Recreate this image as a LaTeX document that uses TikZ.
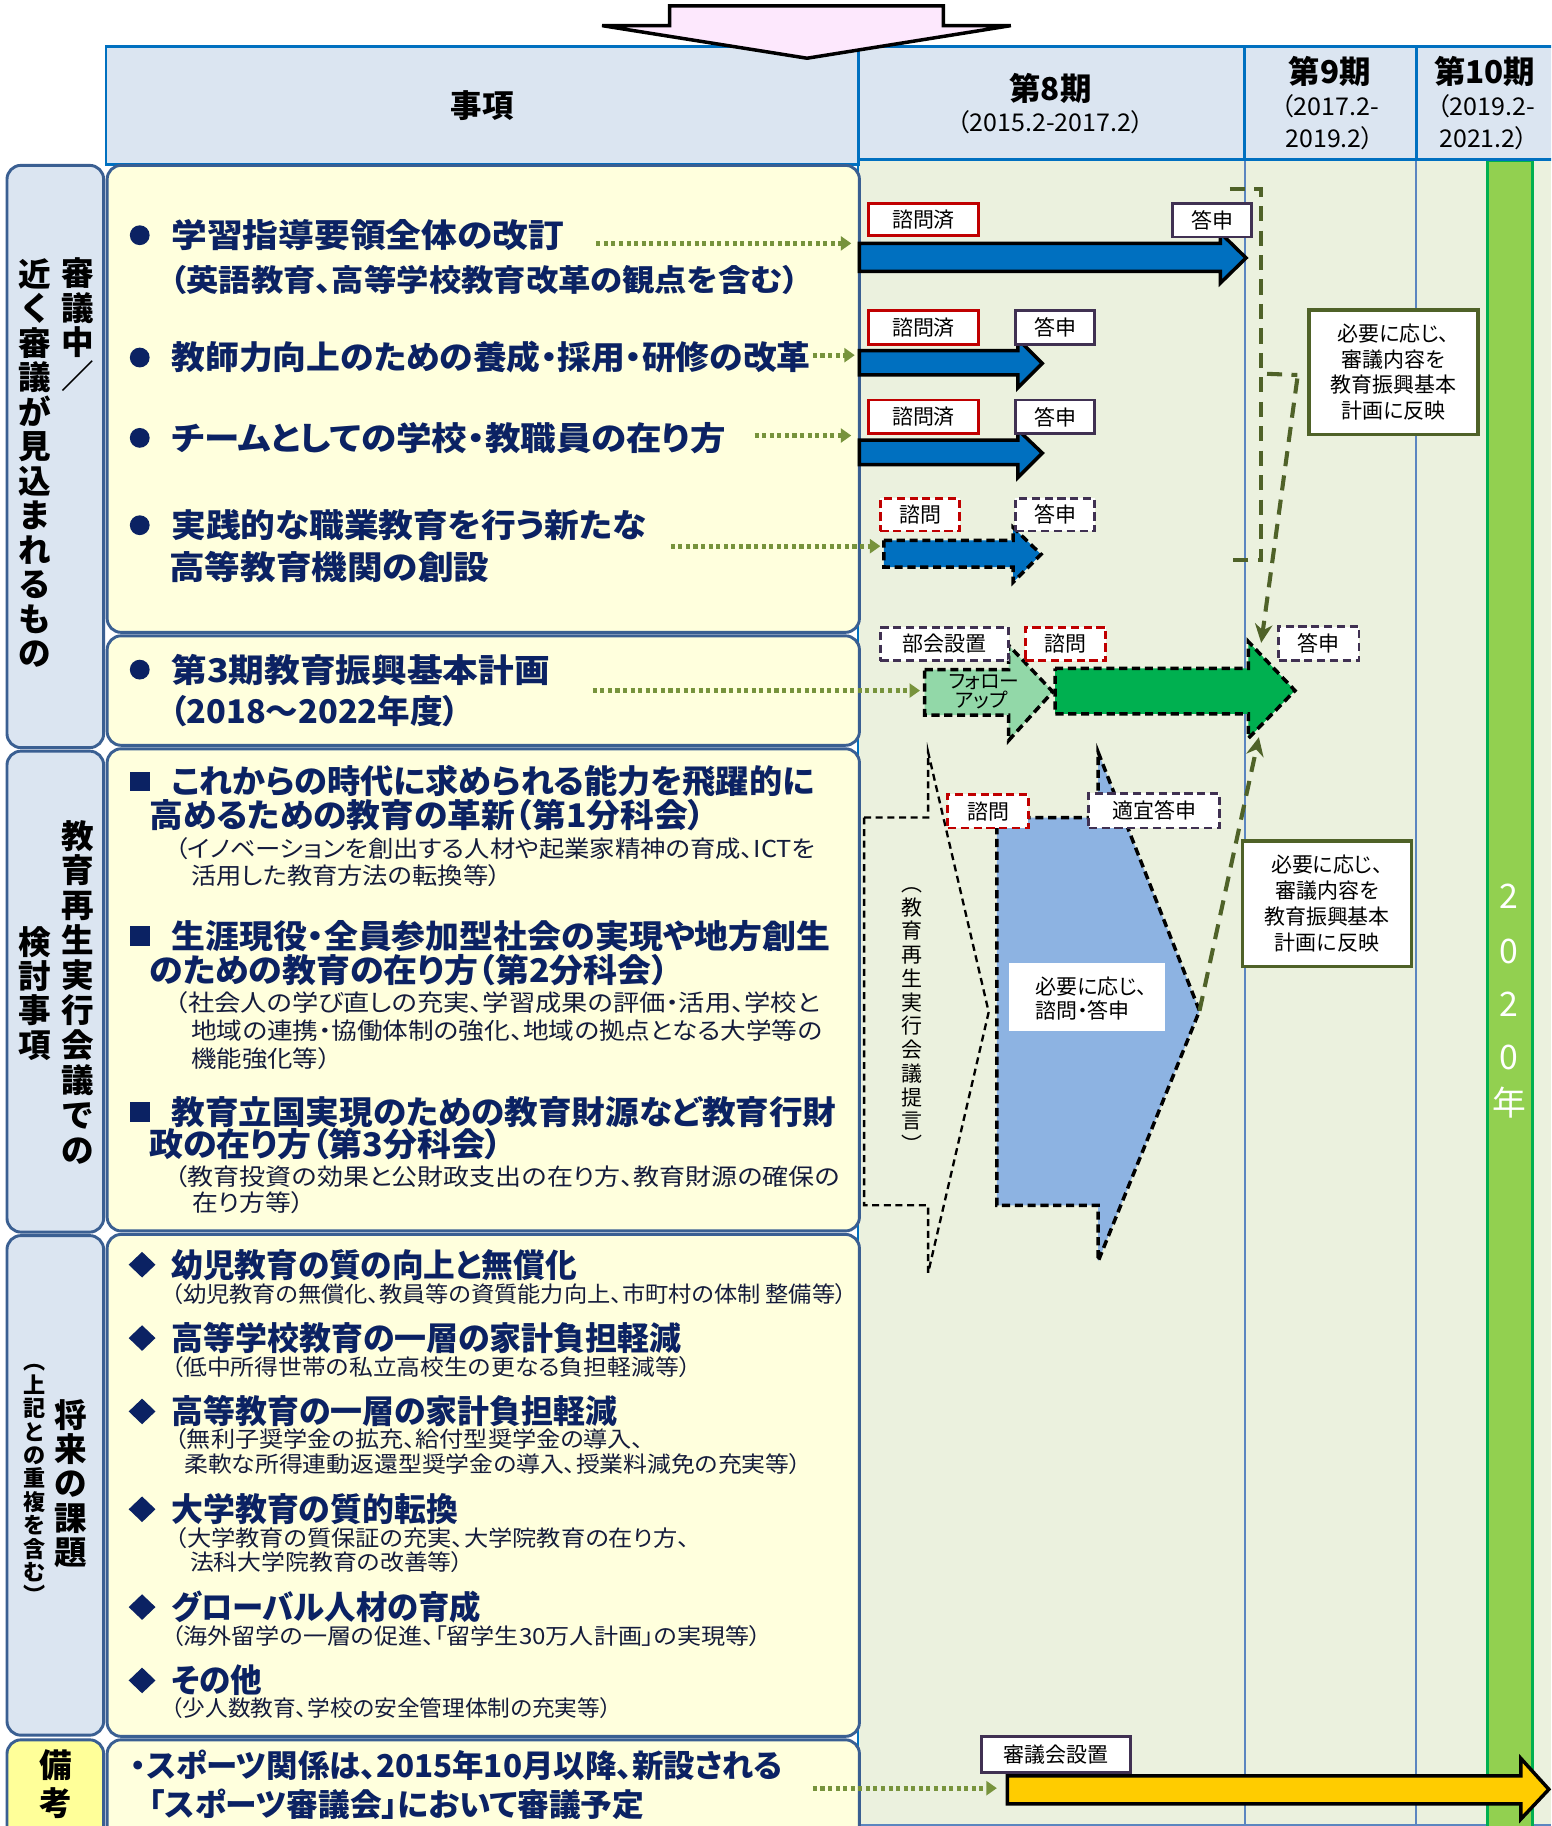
\documentclass[tikz,border=0pt]{standalone}
\usepackage{fontspec}
\setmainfont{Noto Sans CJK JP}[RawFeature=+palt]
\usepackage{graphicx}
\usetikzlibrary{arrows.meta}
\definecolor{navy}{HTML}{0B2263}
\definecolor{subtxt}{HTML}{141B3C}
\definecolor{hdrfill}{HTML}{DBE5F1}
\definecolor{hdrline}{HTML}{0070C0}
\definecolor{boxline}{HTML}{3A5F92}
\definecolor{ylfill}{HTML}{FFFFDD}
\definecolor{tlbg}{HTML}{EBF1DE}
\definecolor{vline}{HTML}{5B86C0}
\definecolor{gbar}{HTML}{92D050}
\definecolor{gbarline}{HTML}{00B050}
\definecolor{olive}{HTML}{4F6228}
\definecolor{dotgreen}{HTML}{77933C}
\definecolor{redb}{HTML}{C00000}
\definecolor{purb}{HTML}{403152}
\definecolor{bluearr}{HTML}{0070C0}
\definecolor{pentblue}{HTML}{8DB3E2}
\definecolor{fugreen}{HTML}{92D8A8}
\definecolor{biggreen}{HTML}{00B050}
\definecolor{yarr}{HTML}{FFCC00}
\definecolor{pinkarr}{HTML}{FDE8FD}
\definecolor{bikofill}{HTML}{FFFF99}
\newcommand{\fw}[2]{\resizebox{#1pt}{\height}{#2}}
\newcommand{\myfs}[1]{\fontsize{#1}{#1}\selectfont}
\newcommand{\mylfs}[2]{\fontsize{#1}{#2}\selectfont}
\begin{document}
\begin{tikzpicture}[x=1pt,y=-1pt,
  catbox/.style={draw=boxline, line width=2.5pt, fill=hdrfill, rounded corners=12pt},
  contbox/.style={draw=boxline, line width=2.5pt, fill=ylfill, rounded corners=12pt},
  hdrcell/.style={draw=hdrline, line width=2.5pt, fill=hdrfill},
  ttl/.style={anchor=west, inner sep=0pt, text=navy, font=\bfseries\myfs{28}},
  subt/.style={anchor=west, inner sep=0pt, text=subtxt, font=\myfs{20}},
  subd/.style={anchor=west, inner sep=0pt, text=subtxt, font=\myfs{19}},
  vtxt/.style={align=center, inner sep=0pt, font=\bfseries\mylfs{28}{29.6}},
  lbl/.style={draw, line width=2.5pt, fill=white, inner sep=0pt, font=\myfs{18}},
  sred/.style={lbl, draw=redb},
  spur/.style={lbl, draw=purb},
  dred/.style={lbl, draw=redb, dash pattern=on 7pt off 4pt},
  dpur/.style={lbl, draw=purb, dash pattern=on 7pt off 4pt},
  barr/.style={draw=black, line width=3pt, line join=miter, miter limit=10},
  darr/.style={draw=black, line width=3pt, dash pattern=on 7pt off 4pt},
  chev/.style={draw=black, line width=2pt, dash pattern=on 6pt off 4pt},
  dotarr/.style={draw=dotgreen, line width=4pt, dash pattern=on 3.5pt off 3pt, -{Triangle[length=9pt,width=12pt]}},
  olivedash/.style={draw=olive, line width=3.5pt, dash pattern=on 13pt off 8pt},
  notebox/.style={draw=olive, line width=3pt, fill=white, align=center, inner sep=0pt, font=\mylfs{18}{22.3}},
  yr/.style={text=white, font=\myfs{29}, inner sep=0pt},
  hdrtxt/.style={inner sep=0pt, font=\bfseries\myfs{27}},
  hdrsub/.style={inner sep=0pt, font=\myfs{21}},
]
\useasboundingbox (0,0) rectangle (1332,1568);
\clip (0,0) rectangle (1332,1568);
\fill[white] (0,0) rectangle (1332,1568);

% timeline background
\fill[tlbg] (737,137) rectangle (1332,1568);
\draw[vline, line width=1.2pt] (1069,137) -- (1069,1568);
\draw[vline, line width=1.2pt] (1216,137) -- (1216,1568);
\draw[vline, line width=1.5pt] (737,1567) -- (1332,1567);
\draw[hdrline, line width=2pt] (737,137) -- (737,1568);
% 2020 bar
\draw[fill=gbar, draw=gbarline, line width=2.5pt] (1277,138) rectangle (1316,1575);
\node[yr] (y1) at (1296,770) {2};
\node[yr] (y2) at (1296,817) {0};
\node[yr] (y3) at (1296,862) {2};
\node[yr] (y4) at (1296,908) {0};
\node[yr] (y5) at (1296,947) {年};

% header
\draw[hdrcell] (91,40) rectangle (737,141);
\draw[hdrcell] (737,40) rectangle (1069,137);
\draw[hdrcell] (1069,40) rectangle (1216,137);
\draw[hdrcell] (1216,40) rectangle (1345,137);
\node[hdrtxt] (hj) at (414,91) {事項};
\node[hdrtxt] (h8) at (902,76) {第8期};
\node[hdrsub] (h8b) at (902,105) {\fw{160}{（2015.2-2017.2）}};
\node[hdrtxt] (h9) at (1142,61) {第9期};
\node[hdrsub] (h9b) at (1142,91) {\fw{84}{（2017.2-}};
\node[hdrsub] (h9c) at (1142,119) {\fw{76}{2019.2）}};
\node[hdrtxt] (h10) at (1275,61) {第10期};
\node[hdrsub] (h10b) at (1276,91) {\fw{84}{（2019.2-}};
\node[hdrsub] (h10c) at (1274,119) {\fw{76}{2021.2）}};

% left category boxes
\draw[catbox] (6,142) rectangle (89,642);
\draw[catbox] (6,645) rectangle (89,1058);
\draw[catbox] (6,1061) rectangle (89,1490);
\draw[catbox, fill=bikofill] (6,1494) rectangle (89,1590);
\node[vtxt] (v1r) at (67,279) {審\\議\\中\\／};
\node[vtxt] (v1l) at (29.5,397.5) {近\\く\\審\\議\\が\\見\\込\\ま\\れ\\る\\も\\の};
\node[vtxt, font=\bfseries\mylfs{28}{30}] (v2r) at (67,852) {教\\育\\再\\生\\実\\行\\会\\議\\で\\の};
\node[vtxt] (v2l) at (29.5,853) {検\\討\\事\\項};
\node[vtxt, font=\bfseries\mylfs{28}{29.5}] (v3r) at (61,1274) {将\\来\\の\\課\\題};
\node[vtxt, font=\bfseries\mylfs{19}{20.1}] (v3l) at (29.5,1274.5) {︵\\上\\記\\と\\の\\重\\複\\を\\含\\む\\︶};
\node[vtxt, font=\bfseries\mylfs{28}{32}] (v4) at (47.5,1532) {備\\考};

% content boxes
\draw[contbox] (92,142) rectangle (738,543);
\draw[contbox] (92,546) rectangle (738,640);
\draw[contbox] (92,643) rectangle (738,1057);
\draw[contbox] (92,1060) rectangle (738,1491);
\draw[contbox] (92,1494) rectangle (738,1590);

% bullets
\foreach \yy in {202,307,376,451,575} \fill[navy] (120,\yy) circle (8.5);
\foreach \yy in {671,804,955} \fill[navy] (111.5,\yy-8.5) rectangle (128.5,\yy+8.5);
\foreach \yy in {1086,1149,1212,1296,1380,1443} \fill[navy] (110.5,\yy) -- (122,\yy-11) -- (133.5,\yy) -- (122,\yy+11) -- cycle;

% box A
\node[ttl] (a1) at (147,202) {\fw{337}{学習指導要領全体の改訂}};
\node[ttl, font=\bfseries\myfs{26}] (a1b) at (146,240) {\fw{540}{（英語教育、高等学校教育改革の観点を含む）}};
\node[ttl] (a2) at (147,307) {\fw{549}{教師力向上のための養成・採用・研修の改革}};
\node[ttl] (a3) at (147,376) {\fw{476}{チームとしての学校・教職員の在り方}};
\node[ttl] (a4) at (147,451) {\fw{408}{実践的な職業教育を行う新たな}};
\node[ttl] (a4b) at (145,487) {\fw{275}{高等教育機関の創設}};
% box B
\node[ttl] (b1) at (147,575) {\fw{325}{第3期教育振興基本計画}};
\node[ttl] (b1b) at (146,611) {\fw{248}{（2018～2022年度）}};
% box C
\node[ttl] (c1) at (147,671) {\fw{552}{これからの時代に求められる能力を飛躍的に}};
\node[ttl] (c1b) at (128,700) {\fw{477}{高めるための教育の革新（第1分科会）}};
\node[subt] (c1c) at (150,729) {\fw{550}{（イノベーションを創出する人材や起業家精神の育成、ICTを}};
\node[subt] (c1d) at (164,752) {\fw{266}{活用した教育方法の転換等）}};
\node[ttl] (c2) at (147,804) {\fw{566}{生涯現役・全員参加型社会の実現や地方創生}};
\node[ttl] (c2b) at (128,833) {\fw{446}{のための教育の在り方（第2分科会）}};
\node[subt] (c2c) at (150,861) {\fw{554}{（社会人の学び直しの充実、学習成果の評価・活用、学校と}};
\node[subt] (c2d) at (164,885) {\fw{542}{地域の連携・協働体制の強化、地域の拠点となる大学等の}};
\node[subt] (c2e) at (164,909) {\fw{120}{機能強化等）}};
\node[ttl] (c3) at (147,955) {\fw{571}{教育立国実現のための教育財源など教育行財}};
\node[ttl] (c3b) at (128,982) {\fw{303}{政の在り方（第3分科会）}};
\node[subt] (c3c) at (150,1010) {\fw{571}{（教育投資の効果と公財政支出の在り方、教育財源の確保の}};
\node[subt] (c3d) at (165,1033) {\fw{96}{在り方等）}};
% box D
\node[ttl] (d1) at (147,1086) {\fw{348}{幼児教育の質の向上と無償化}};
\node[subd] (d1b) at (147,1111) {\fw{580}{（幼児教育の無償化、教員等の資質能力向上、市町村の体制 整備等）}};
\node[ttl] (d2) at (147,1149) {\fw{438}{高等学校教育の一層の家計負担軽減}};
\node[subd] (d2b) at (147,1174) {\fw{446}{（低中所得世帯の私立高校生の更なる負担軽減等）}};
\node[ttl] (d3) at (147,1212) {\fw{383}{高等教育の一層の家計負担軽減}};
\node[subd] (d3b) at (150,1236) {\fw{403}{（無利子奨学金の拡充、給付型奨学金の導入、}};
\node[subd] (d3c) at (158,1257) {\fw{530}{柔軟な所得連動返還型奨学金の導入、授業料減免の充実等）}};
\node[ttl] (d4) at (147,1296) {\fw{246}{大学教育の質的転換}};
\node[subd] (d4b) at (150,1321) {\fw{442}{（大学教育の質保証の充実、大学院教育の在り方、}};
\node[subd] (d4c) at (163,1341.5) {\fw{235}{法科大学院教育の改善等）}};
\node[ttl] (d5) at (147,1380) {\fw{266}{グローバル人材の育成}};
\node[subd] (d5b) at (147,1405) {\fw{507}{（海外留学の一層の促進、「留学生30万人計画」の実現等）}};
\node[ttl] (d6) at (147,1443) {\fw{78}{その他}};
\node[subd] (d6b) at (147,1467) {\fw{378}{（少人数教育、学校の安全管理体制の充実等）}};
% box E
\node[ttl, font=\bfseries\myfs{27}] (e1) at (112,1516) {\fw{560}{・スポーツ関係は、2015年10月以降、新設される}};
\node[ttl, font=\bfseries\myfs{27}] (e2) at (128,1549) {\fw{425}{「スポーツ審議会」において審議予定}};

% dotted connectors
\coordinate (p1) at (731,209);
\coordinate (p2) at (734,305);
\coordinate (p3) at (731,374);
\coordinate (p4) at (756,469);
\coordinate (p5) at (790,593);
\coordinate (p6) at (856,1535.5);
\draw[dotarr] (512,209) -- (p1);
\draw[dotarr] (698,305) -- (p2);
\draw[dotarr] (648,374) -- (p3);
\draw[dotarr] (576,469) -- (p4);
\draw[dotarr] (509,593) -- (p5);
\draw[dotarr] (698,1535.5) -- (p6);

% block arrows rows 1-3
\draw[barr, fill=bluearr] (738,209) -- (1048,209) -- (1048,200) -- (1070,221.5) -- (1048,243) -- (1048,233) -- (738,233) -- cycle;
\draw[barr, fill=bluearr] (738,301) -- (874,301) -- (874,291) -- (895,312) -- (874,333) -- (874,322) -- (738,322) -- cycle;
\draw[barr, fill=bluearr] (738,378) -- (874,378) -- (874,369) -- (895,389) -- (874,410) -- (874,399) -- (738,399) -- cycle;
% row 4 dashed
\draw[darr, fill=bluearr] (759,464) -- (870,464) -- (870,453) -- (894,476) -- (870,500) -- (870,487) -- (759,487) -- cycle;
% follow-up and green arrows
\draw[darr, fill=fugreen] (794,575) -- (866,575) -- (866,554) -- (904,594) -- (866,636) -- (866,614) -- (794,614) -- cycle;
\node[inner sep=0pt, font=\myfs{17}] (fu1) at (845,586) {フォロー};
\node[inner sep=0pt, font=\myfs{17}] (fu2) at (843,601) {アップ};
\draw[darr, fill=biggreen] (906,574) -- (1072,574) -- (1072,551) -- (1112,593) -- (1072,634) -- (1072,613) -- (906,613) -- cycle;
% yellow arrow
\draw[barr, fill=yarr] (865,1525) -- (1306,1525) -- (1306,1510) -- (1330,1536.5) -- (1306,1562) -- (1306,1549) -- (865,1549) -- cycle;

% chevron (proposal)
\draw[chev] (742,702) -- (797,702) -- (797,646) -- (849,869) -- (797,1093) -- (797,1035) -- (742,1035) -- cycle;
\node[align=center, inner sep=0pt, font=\mylfs{18}{20.4}] (vt) at (783,876) {︵\\教\\育\\再\\生\\実\\行\\会\\議\\提\\言\\︶};
% blue pentagon
\draw[darr, fill=pentblue] (856,702) -- (943,702) -- (943,646) -- (1030,868) -- (943,1083) -- (943,1035) -- (856,1035) -- cycle;
\node[fill=white, minimum width=134pt, minimum height=58pt, inner sep=0pt] (wb) at (933,856) {};
\node[anchor=west, align=left, inner sep=0pt, font=\mylfs{18}{21}] (wbt) at (889,857.5) {必要に応じ、\\諮問・答申};

% labels
\node[sred, minimum width=94pt, minimum height=28pt] (l1a) at (793,188.5) {諮問済};
\node[spur, minimum width=68pt, minimum height=29pt] (l1b) at (1041,189) {答申};
\node[sred, minimum width=94pt, minimum height=29pt] (l2a) at (793,281) {諮問済};
\node[spur, minimum width=68pt, minimum height=29pt] (l2b) at (906,281) {答申};
\node[sred, minimum width=94pt, minimum height=29pt] (l3a) at (793,358) {諮問済};
\node[spur, minimum width=68pt, minimum height=29pt] (l3b) at (906,358) {答申};
\node[dred, minimum width=68pt, minimum height=28pt] (l4a) at (790,442) {諮問};
\node[dpur, minimum width=68pt, minimum height=28pt] (l4b) at (906,442) {答申};
\node[dpur, minimum width=110pt, minimum height=29pt] (l5a) at (811,553) {部会設置};
\node[dred, minimum width=69pt, minimum height=29pt] (l5b) at (915,553) {諮問};
\node[dpur, minimum width=69pt, minimum height=29pt] (l5c) at (1132.5,552.5) {答申};
\node[dred, minimum width=69pt, minimum height=29pt] (l6a) at (848.5,696.5) {諮問};
\node[dpur, minimum width=112pt, minimum height=30pt] (l6b) at (991,696) {適宜答申};
\node[spur, minimum width=128pt, minimum height=31pt] (l7) at (906.5,1506.5) {審議会設置};

% olive dashed bracket and arrows
\draw[olivedash] (1056,162) -- (1083,162) -- (1083,481) -- (1056,481);
\draw[olivedash] (1088,321) -- (1114,322);
\coordinate (ua) at (1083,552);
\draw[olivedash, -{Stealth[length=16pt,width=15pt]}] (1114,325) -- (ua);
\coordinate (la) at (1081,633);
\draw[olivedash, -{Stealth[length=16pt,width=15pt]}] (1030,868) -- (la);

% note boxes
\node[notebox, minimum width=145pt, minimum height=107pt] (n1) at (1196.5,319.5) {必要に応じ、\\審議内容を\\教育振興基本\\計画に反映};
\node[notebox, minimum width=145pt, minimum height=108pt] (n2) at (1139.5,776) {必要に応じ、\\審議内容を\\教育振興基本\\計画に反映};

% pink arrow
\draw[fill=pinkarr, draw=black, line width=3pt, line join=miter] (575,5) -- (810,5) -- (810,22) -- (868,22) -- (693,50) -- (517,22) -- (575,22) -- cycle;
\end{tikzpicture}
\end{document}
